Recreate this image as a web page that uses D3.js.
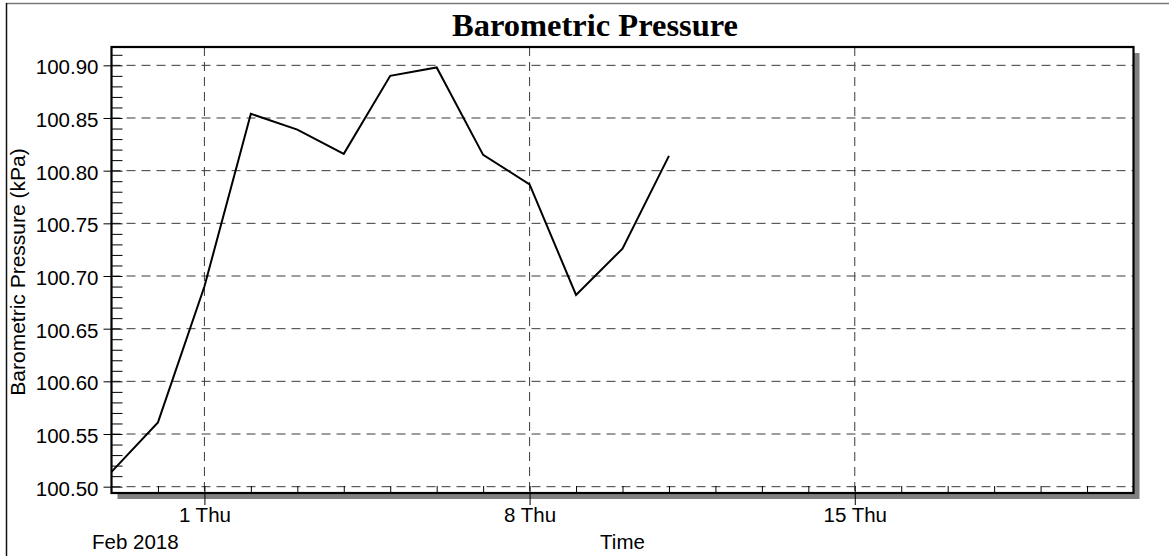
<!DOCTYPE html>
<html>
<head>
<meta charset="utf-8">
<script src="https://cdn.jsdelivr.net/npm/d3@7"></script>
<style>
  html, body { margin: 0; padding: 0; background: #fff; }
  svg { display: block; }
  text { font-family: "Liberation Sans", Arial, sans-serif; fill: #000; }
</style>
</head>
<body>
<svg id="chart" width="1169" height="556"></svg>
<script>
// ---- data ----
const dates = ["2018-01-30","2018-01-31","2018-02-01","2018-02-02","2018-02-03","2018-02-04",
               "2018-02-05","2018-02-06","2018-02-07","2018-02-08","2018-02-09","2018-02-10","2018-02-11"];
const pressure = [100.514, 100.561, 100.690, 100.854, 100.839, 100.816,
                  100.890, 100.898, 100.815, 100.787, 100.682, 100.726, 100.814];
const yTicks = [100.50, 100.55, 100.60, 100.65, 100.70, 100.75, 100.80, 100.85, 100.90];
const xTickDates = ["2018-02-01","2018-02-08","2018-02-15"];
const xDomain = ["2018-01-30","2018-02-21"];
const yDomain = [100.494, 100.9174];
const titleText = "Barometric Pressure";
const yLabel = "Barometric Pressure (kPa)";
const xLabel = "Time";
const xSubLabel = "Feb 2018";

// ---- layout ----
const parse = d3.utcParse("%Y-%m-%d");
const L = 111.5, R = 1133.5, T = 47, B = 493;
const svg = d3.select("#chart");

const x = d3.scaleUtc().domain(xDomain.map(parse)).range([L, R]);
const y = d3.scaleLinear().domain(yDomain).range([B, T]);

// outer frame
svg.append("line").attr("x1", 6).attr("x2", 1169).attr("y1", 3.5).attr("y2", 3.5)
  .attr("stroke", "#777").attr("stroke-width", 1.5);
svg.append("line").attr("x1", 6.5).attr("x2", 6.5).attr("y1", 3).attr("y2", 556)
  .attr("stroke", "#111").attr("stroke-width", 1.5);

// title
svg.append("text").attr("x", 595).attr("y", 36).attr("text-anchor", "middle")
  .style("font-family", "'Liberation Serif','Times New Roman',serif")
  .style("font-weight", "bold").style("font-size", "32.5px").text(titleText);

// shadow
svg.append("rect").attr("x", L + 6).attr("y", T + 6).attr("width", R - L).attr("height", B - T)
  .attr("fill", "#808080");
svg.append("rect").attr("x", L).attr("y", T).attr("width", R - L).attr("height", B - T)
  .attr("fill", "#fff");

// grid
const grid = svg.append("g");
grid.selectAll("line.h").data(yTicks).join("line").attr("class", "h")
  .attr("x1", L).attr("x2", R).attr("y1", d => y(d)).attr("y2", d => y(d))
  .attr("stroke", "#3a3a3a").attr("stroke-width", 1).attr("stroke-dasharray", "9,6");
grid.selectAll("line.v").data(xTickDates.map(parse)).join("line").attr("class", "v")
  .attr("x1", d => x(d)).attr("x2", d => x(d)).attr("y1", T).attr("y2", B)
  .attr("stroke", "#3a3a3a").attr("stroke-width", 1).attr("stroke-dasharray", "9,6");

// minor ticks (inward)
const yMinor = d3.range(100.50, 100.915, 0.01);
svg.append("g").attr("transform", `translate(${L},0)`)
  .call(d3.axisRight(y).tickValues(yMinor).tickSize(11).tickFormat(""))
  .call(g => g.select(".domain").remove())
  .call(g => g.selectAll("line").attr("stroke", "#000"));
const xMinor = d3.utcDay.range(parse("2018-01-31"), parse("2018-02-21"));
svg.append("g").attr("transform", `translate(0,${B})`)
  .call(d3.axisTop(x).tickValues(xMinor).tickSize(7).tickFormat(""))
  .call(g => g.select(".domain").remove())
  .call(g => g.selectAll("line").attr("stroke", "#000"));

// major axes
const yAxis = svg.append("g").attr("transform", `translate(${L},0)`)
  .call(d3.axisLeft(y).tickValues(yTicks).tickSize(8).tickPadding(5).tickFormat(d3.format(".2f")));
yAxis.select(".domain").remove();
yAxis.selectAll("line").attr("stroke", "#000");
yAxis.selectAll("text").style("font-size", "20.5px").attr("dy", "0.42em")
  .style("font-family", "'Liberation Sans',Arial,sans-serif").attr("fill", "#000");

const xAxis = svg.append("g").attr("transform", `translate(0,${B})`)
  .call(d3.axisBottom(x).tickValues(xTickDates.map(parse)).tickSize(12).tickPadding(2)
    .tickFormat(d3.utcFormat("%-d %a")));
xAxis.select(".domain").remove();
xAxis.selectAll("line").attr("stroke", "#000");
xAxis.selectAll("text").style("font-size", "20.5px")
  .style("font-family", "'Liberation Sans',Arial,sans-serif").attr("fill", "#000");

// data line
const line = d3.line().x((d, i) => x(parse(dates[i]))).y(d => y(d));
svg.append("path").datum(pressure).attr("d", line)
  .attr("fill", "none").attr("stroke", "#000").attr("stroke-width", 2)
  .attr("stroke-linejoin", "miter");

// plot border
svg.append("rect").attr("x", L).attr("y", T).attr("width", R - L).attr("height", B - T)
  .attr("fill", "none").attr("stroke", "#000").attr("stroke-width", 2.2);

// labels
svg.append("text").attr("x", 92).attr("y", 549).style("font-size", "20.5px").text(xSubLabel);
svg.append("text").attr("x", (L + R) / 2).attr("y", 549).attr("text-anchor", "middle")
  .style("font-size", "20.5px").text(xLabel);
svg.append("text").attr("transform", "translate(25,272) rotate(-90)").attr("text-anchor", "middle")
  .style("font-size", "21px").text(yLabel);
</script>
</body>
</html>
